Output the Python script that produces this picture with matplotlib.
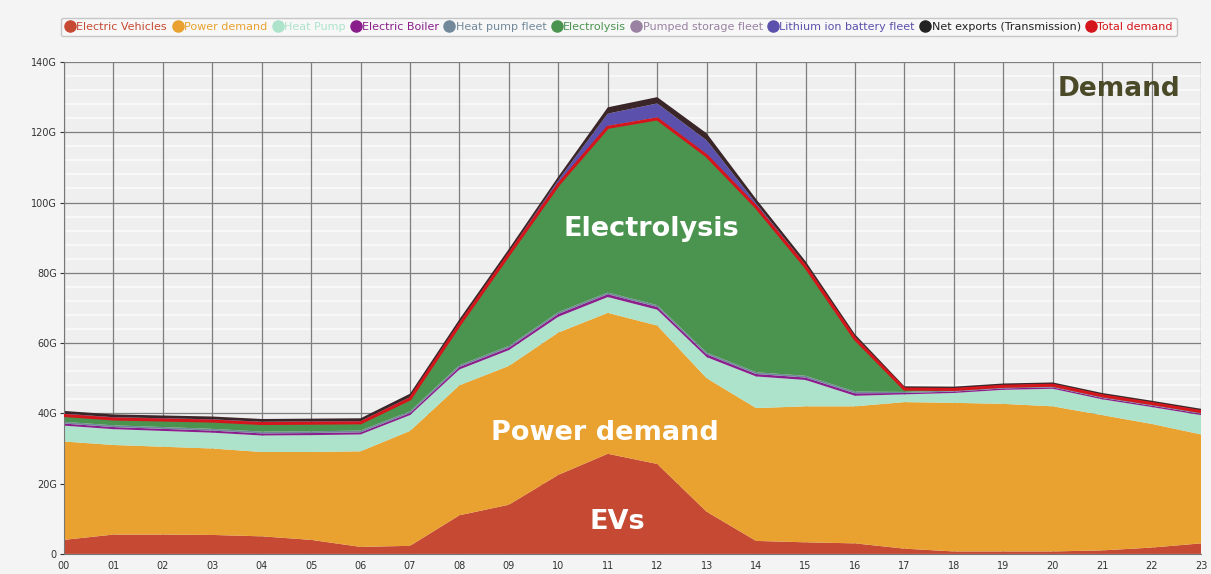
import numpy as np
import matplotlib.pyplot as plt
from matplotlib.lines import Line2D

hours = ['00', '01', '02', '03', '04', '05', '06', '07', '08', '09', '10', '11',
         '12', '13', '14', '15', '16', '17', '18', '19', '20', '21', '22', '23']

# GW per hour
ev = [4, 5.5, 5.5, 5.4, 5, 4, 2, 2.3, 11, 14, 22.5, 28.5,
      25.6, 12, 3.7, 3.3, 3, 1.5, 0.7, 0.7, 0.7, 1, 1.8, 3]
power = [28, 25.5, 25, 24.6, 24, 25, 27.2, 32.7, 37, 39.5, 40.5, 40.1,
         39.4, 38, 37.8, 38.7, 39, 41.7, 42.3, 42, 41.3, 38.5, 35.2, 31]
heat_pump = [4.5, 4.5, 4.5, 4.5, 4.7, 4.8, 4.8, 4.5, 4.5, 4.5, 4.5, 4.5,
             4.5, 6, 9, 7.5, 3, 2.2, 2.8, 4, 5, 4.5, 4.8, 5.5]
boiler = [0.6, 0.6, 0.6, 0.6, 0.6, 0.6, 0.6, 0.6, 0.7, 0.7, 0.8, 0.8,
          0.8, 0.8, 0.7, 0.7, 0.7, 0.4, 0.4, 0.4, 0.4, 0.4, 0.4, 0.4]
hp_fleet = [0.5, 0.5, 0.5, 0.5, 0.5, 0.5, 0.5, 0.5, 0.5, 0.5, 0.5, 0.5,
            0.5, 0.5, 0.5, 0.5, 0.5, 0.3, 0.3, 0.3, 0.3, 0.3, 0.3, 0.3]
electrolysis = [1.8, 1.8, 2, 2.2, 2.3, 2.3, 2.2, 3.5, 11.5, 26, 36.3, 47,
                53, 56, 47, 31, 15, 0.8, 0.3, 0.3, 0.3, 0.3, 0.3, 0.3]
pumped = [0.3, 0.3, 0.3, 0.3, 0.3, 0.3, 0.3, 0.3, 0.3, 0.3, 0.3, 0.4,
          0.4, 0.4, 0.3, 0.3, 0.3, 0.2, 0.2, 0.2, 0.2, 0.2, 0.2, 0.2]
lithium = [0.2, 0.2, 0.2, 0.2, 0.2, 0.2, 0.2, 0.2, 0.3, 0.3, 1, 3.5,
           4, 4, 0.8, 0.3, 0.2, 0.1, 0.1, 0.1, 0.1, 0.1, 0.1, 0.1]
net_exports = [0.8, 0.8, 0.8, 0.8, 0.8, 0.8, 0.8, 1, 1, 1, 1, 1.8,
               1.8, 2, 1.2, 1, 0.8, 0.5, 0.5, 0.5, 0.5, 0.5, 0.5, 0.5]

labels = ['Electric Vehicles', 'Power demand', 'Heat Pump', 'Electric Boiler',
          'Heat pump fleet', 'Electrolysis', 'Pumped storage fleet',
          'Lithium ion battery fleet', 'Net exports (Transmission)', 'Total demand']
colors = ['#c64a33', '#e9a12f', '#ade3cb', '#8a1f8c', '#71899a', '#4b9450',
          '#9a82a2', '#5b51ad', '#3a2628']
red = '#d4161c'
yticks = [0, 20, 40, 60, 80, 100, 120, 140]
ylabels = ['0', '20G', '40G', '60G', '80G', '100G', '120G', '140G']

x = np.arange(len(hours))
series = [ev, power, heat_pump, boiler, hp_fleet, electrolysis, pumped, lithium, net_exports]
total = np.sum(series[:6], axis=0)

fig = plt.figure(figsize=(12.11, 5.74), dpi=100, facecolor='#f4f4f4')
ax = fig.add_axes([0.0528, 0.035, 0.939, 0.857])
ax.set_facecolor('#efefef')

# light minor rows under the dark major grid
for v in np.arange(4, 140, 4):
    if v % 20:
        ax.axhline(v, color='#fafafa', lw=1.2, zorder=0.5)

ax.stackplot(x, *series, colors=colors, linewidth=0, zorder=2)
ax.plot(x, total, color=red, lw=2.2, zorder=3)

ax.set_xlim(0, 23)
ax.set_ylim(0, 140)
ax.set_xticks(x)
ax.set_xticklabels(hours)
ax.set_yticks(yticks)
ax.set_yticklabels(ylabels)
ax.grid(which='major', color='#7e7e7e', lw=0.9, zorder=1)
ax.set_axisbelow(True)
ax.tick_params(axis='both', labelsize=7, colors='#333333', length=3, pad=2)
ax.tick_params(axis='x', length=0, pad=5)
for s in ['top', 'right']:
    ax.spines[s].set_visible(False)
for s in ['left', 'bottom']:
    ax.spines[s].set_color('#777777')

handles = [Line2D([], [], ls='', marker='o', ms=8, mfc=c, mec=c) for c in colors[:-1] + ['#222222', red]]
leg = fig.legend(handles, labels, loc='center', ncol=10,
                 bbox_to_anchor=(0.511, 0.953), frameon=True,
                 labelcolor='markerfacecolor', handletextpad=0.05, columnspacing=0.45,
                 borderpad=0.35, handlelength=1.0, fancybox=True,
                 prop={'family': ['DejaVu Sans Condensed', 'Liberation Sans Narrow', 'DejaVu Sans'],
                       'size': 8})
leg.get_frame().set_edgecolor('#bbbbbb')
leg.get_frame().set_facecolor('#f8f8f8')

bold = dict(fontweight='bold', family='DejaVu Sans')
ax.text(0.982, 0.945, 'Demand', transform=ax.transAxes, ha='right', va='center',
        fontsize=19, color='#4a4a28', **bold)
ax.text(11.88, 92.5, 'Electrolysis', ha='center', va='center', fontsize=19.5, color='white', **bold)
ax.text(10.95, 34.5, 'Power demand', ha='center', va='center', fontsize=19.5, color='white', **bold)
ax.text(11.2, 9, 'EVs', ha='center', va='center', fontsize=19.5, color='white', **bold)

fig.savefig('out.png', dpi=100, facecolor=fig.get_facecolor())
